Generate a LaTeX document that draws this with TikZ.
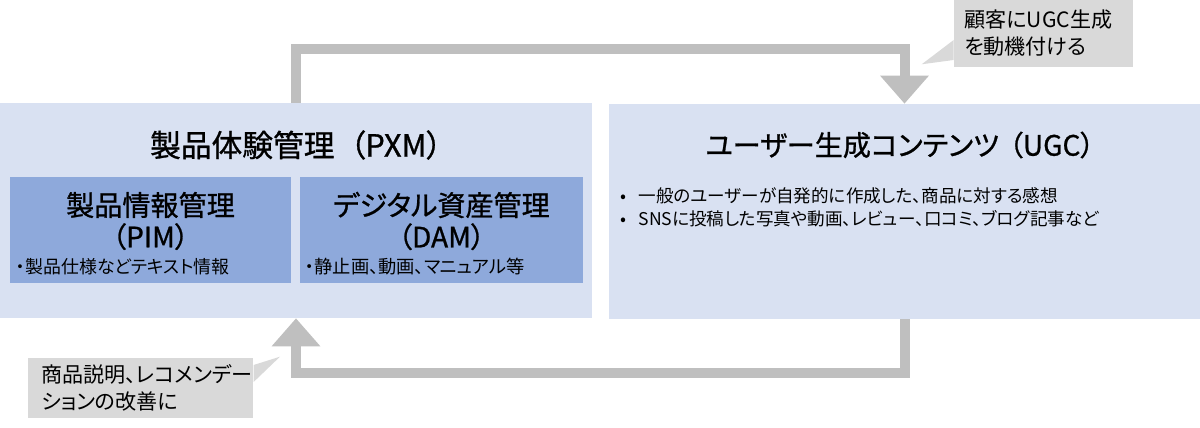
\documentclass[tikz,border=0pt]{standalone}
\usepackage{fontspec}
\setmainfont{Noto Sans CJK JP}[RawFeature=+palt]
\newfontfamily\headfont{Noto Sans CJK JP}[RawFeature=+palt, FakeBold=0.9]
\usepackage{xcolor}
\usepackage{tikz}
\usetikzlibrary{arrows.meta, positioning}
\definecolor{outerblue}{HTML}{D9E1F2}
\definecolor{innerblue}{HTML}{8EA9DB}
\definecolor{flowgray}{HTML}{BFBFBF}
\definecolor{notegray}{HTML}{D9D9D9}
\tikzstyle{outerbox} = [rectangle, fill=outerblue, minimum width=11.84cm, minimum height=4.3cm, inner sep=0pt]
\tikzstyle{innerbox} = [rectangle, fill=innerblue, minimum height=2.12cm, inner sep=0pt]
\tikzstyle{notebox} = [rectangle, fill=notegray, inner sep=0pt]
\tikzstyle{notetext} = [anchor=west, align=left, inner sep=0pt, font=\fontsize{12}{15.3}\selectfont]
\tikzstyle{flow} = [draw=flowgray, line width=0.2cm, -{Triangle[width=0.94cm, length=0.56cm]}]

\begin{document}
\begin{tikzpicture}[x=0.02cm, y=0.02cm]
        \useasboundingbox (0,0) rectangle (1200,428);

        % Main boxes
        \node[outerbox] (pxm) at (296,217.5) {};
        \node[outerbox, minimum width=11.82cm] (ugc) at (904.5,216.5) {};
        \node[innerbox, minimum width=5.62cm] (pim) at (150.5,198) {};
        \node[innerbox, minimum width=5.66cm] (dam) at (441.5,198) {};

        % Titles
        \node[font=\headfont\fontsize{17.5}{20}\selectfont] (pxmtitle) at (296,283) {製品体験管理\hspace{0.5em}（PXM）\hspace{0.5em}};
        \node[font=\headfont\fontsize{16}{20}\selectfont] (ugctitle) at (900,283) {ユーザー生成コンテンツ\hspace{0.35em}（UGC）\hspace{0.35em}};
        \node[align=center, font=\headfont\fontsize{16}{18}\selectfont] (pimtitle) at (150.5,207) {製品情報管理\\（PIM）};
        \node[align=center, font=\headfont\fontsize{16}{18}\selectfont] (damtitle) at (441.5,207) {デジタル資産管理\\（DAM）};

        % Bullet texts
        \node[anchor=west, inner sep=0pt, font=\fontsize{10.2}{12}\selectfont] (pimtext) at (16,161) {・製品仕様などテキスト情報};
        \node[anchor=west, inner sep=0pt, font=\fontsize{10.4}{12}\selectfont] (damtext) at (305,161) {・静止画、動画、マニュアル等};
        \node[anchor=north west, align=left, inner sep=0pt, font=\fontsize{10}{13}\selectfont] (ugctext) at (620,241) {%
            •\hspace{0.25cm}一般のユーザーが自発的に作成した、商品に対する感想\\
            •\hspace{0.25cm}SNSに投稿した写真や動画、レビュー、口コミ、ブログ記事など};

        % Feedback loop
        \draw[flow] (pxm.north) -- (pxm.north |- 0,378.5) -| (ugc.north);
        \draw[flow] (ugc.south) -- (ugc.south |- 0,55) -| (pxm.south);

        % Callouts
        \node[notebox, minimum width=3.58cm, minimum height=1.33cm] (motivate) at (1043.5,394.7) {};
        \node[notetext] (motivatetext) at (964,394.7) {顧客にUGC生成\\を動機付ける};
        \coordinate (motivatetip) at (921.7,363.7);
        \fill[notegray] (motivate.west |- 0,388) -- (motivatetip) -- (motivate.west |- 0,368) -- cycle;

        \node[notebox, minimum width=4.5cm, minimum height=1.2cm] (improve) at (140.8,39.7) {};
        \node[notetext] (improvetext) at (41,39.7) {商品説明、レコメンデー\\ションの改善に};
        \coordinate (improvetip) at (280,71.3);
        \fill[notegray] (improve.east |- 0,63) -- (improvetip) -- (improve.east |- 0,46) -- cycle;
    \end{tikzpicture}
\end{document}
